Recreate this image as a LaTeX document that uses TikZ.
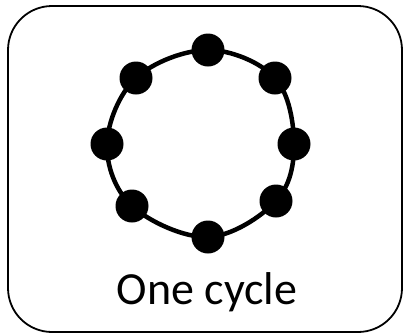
\documentclass[tikz,border=0pt]{standalone}
\usepackage{fontspec}
\setmainfont{Carlito}
\usepackage{xcolor}
\usetikzlibrary{positioning,calc}
\definecolor{Ink}{HTML}{000000}
\tikzset{
  bead/.style={circle, fill=Ink, inner sep=0pt, minimum size=33pt},
  ring/.style={draw=Ink, line width=4.5pt},
  frame/.style={draw=Ink, line width=1.8pt, rounded corners=44pt},
}

\begin{document}
\begin{tikzpicture}[x=1pt,y=-1pt]
        \useasboundingbox (0,0) rectangle (405,335);
        \draw[frame] (8,6) rectangle (402,332);
        % beads round the cycle
        \node[bead] (top) at (208,50) {};
        \node[bead] (topright) at (275,78) {};
        \node[bead] (right) at (294,144) {};
        \node[bead] (botright) at (276,201) {};
        \node[bead] (bot) at (208,237) {};
        \node[bead] (botleft) at (132,206) {};
        \node[bead] (left) at (107,144) {};
        \node[bead] (topleft) at (136,78) {};
        \draw[ring] plot[smooth cycle, tension=0.6] coordinates {(top.center) (topright.center) (right.center) (botright.center) (bot.center) (botleft.center) (left.center) (topleft.center)};
        \node[font=\fontsize{46pt}{50pt}\selectfont, anchor=base] (label) at (207,304) {One cycle};
      \end{tikzpicture}
\end{document}
